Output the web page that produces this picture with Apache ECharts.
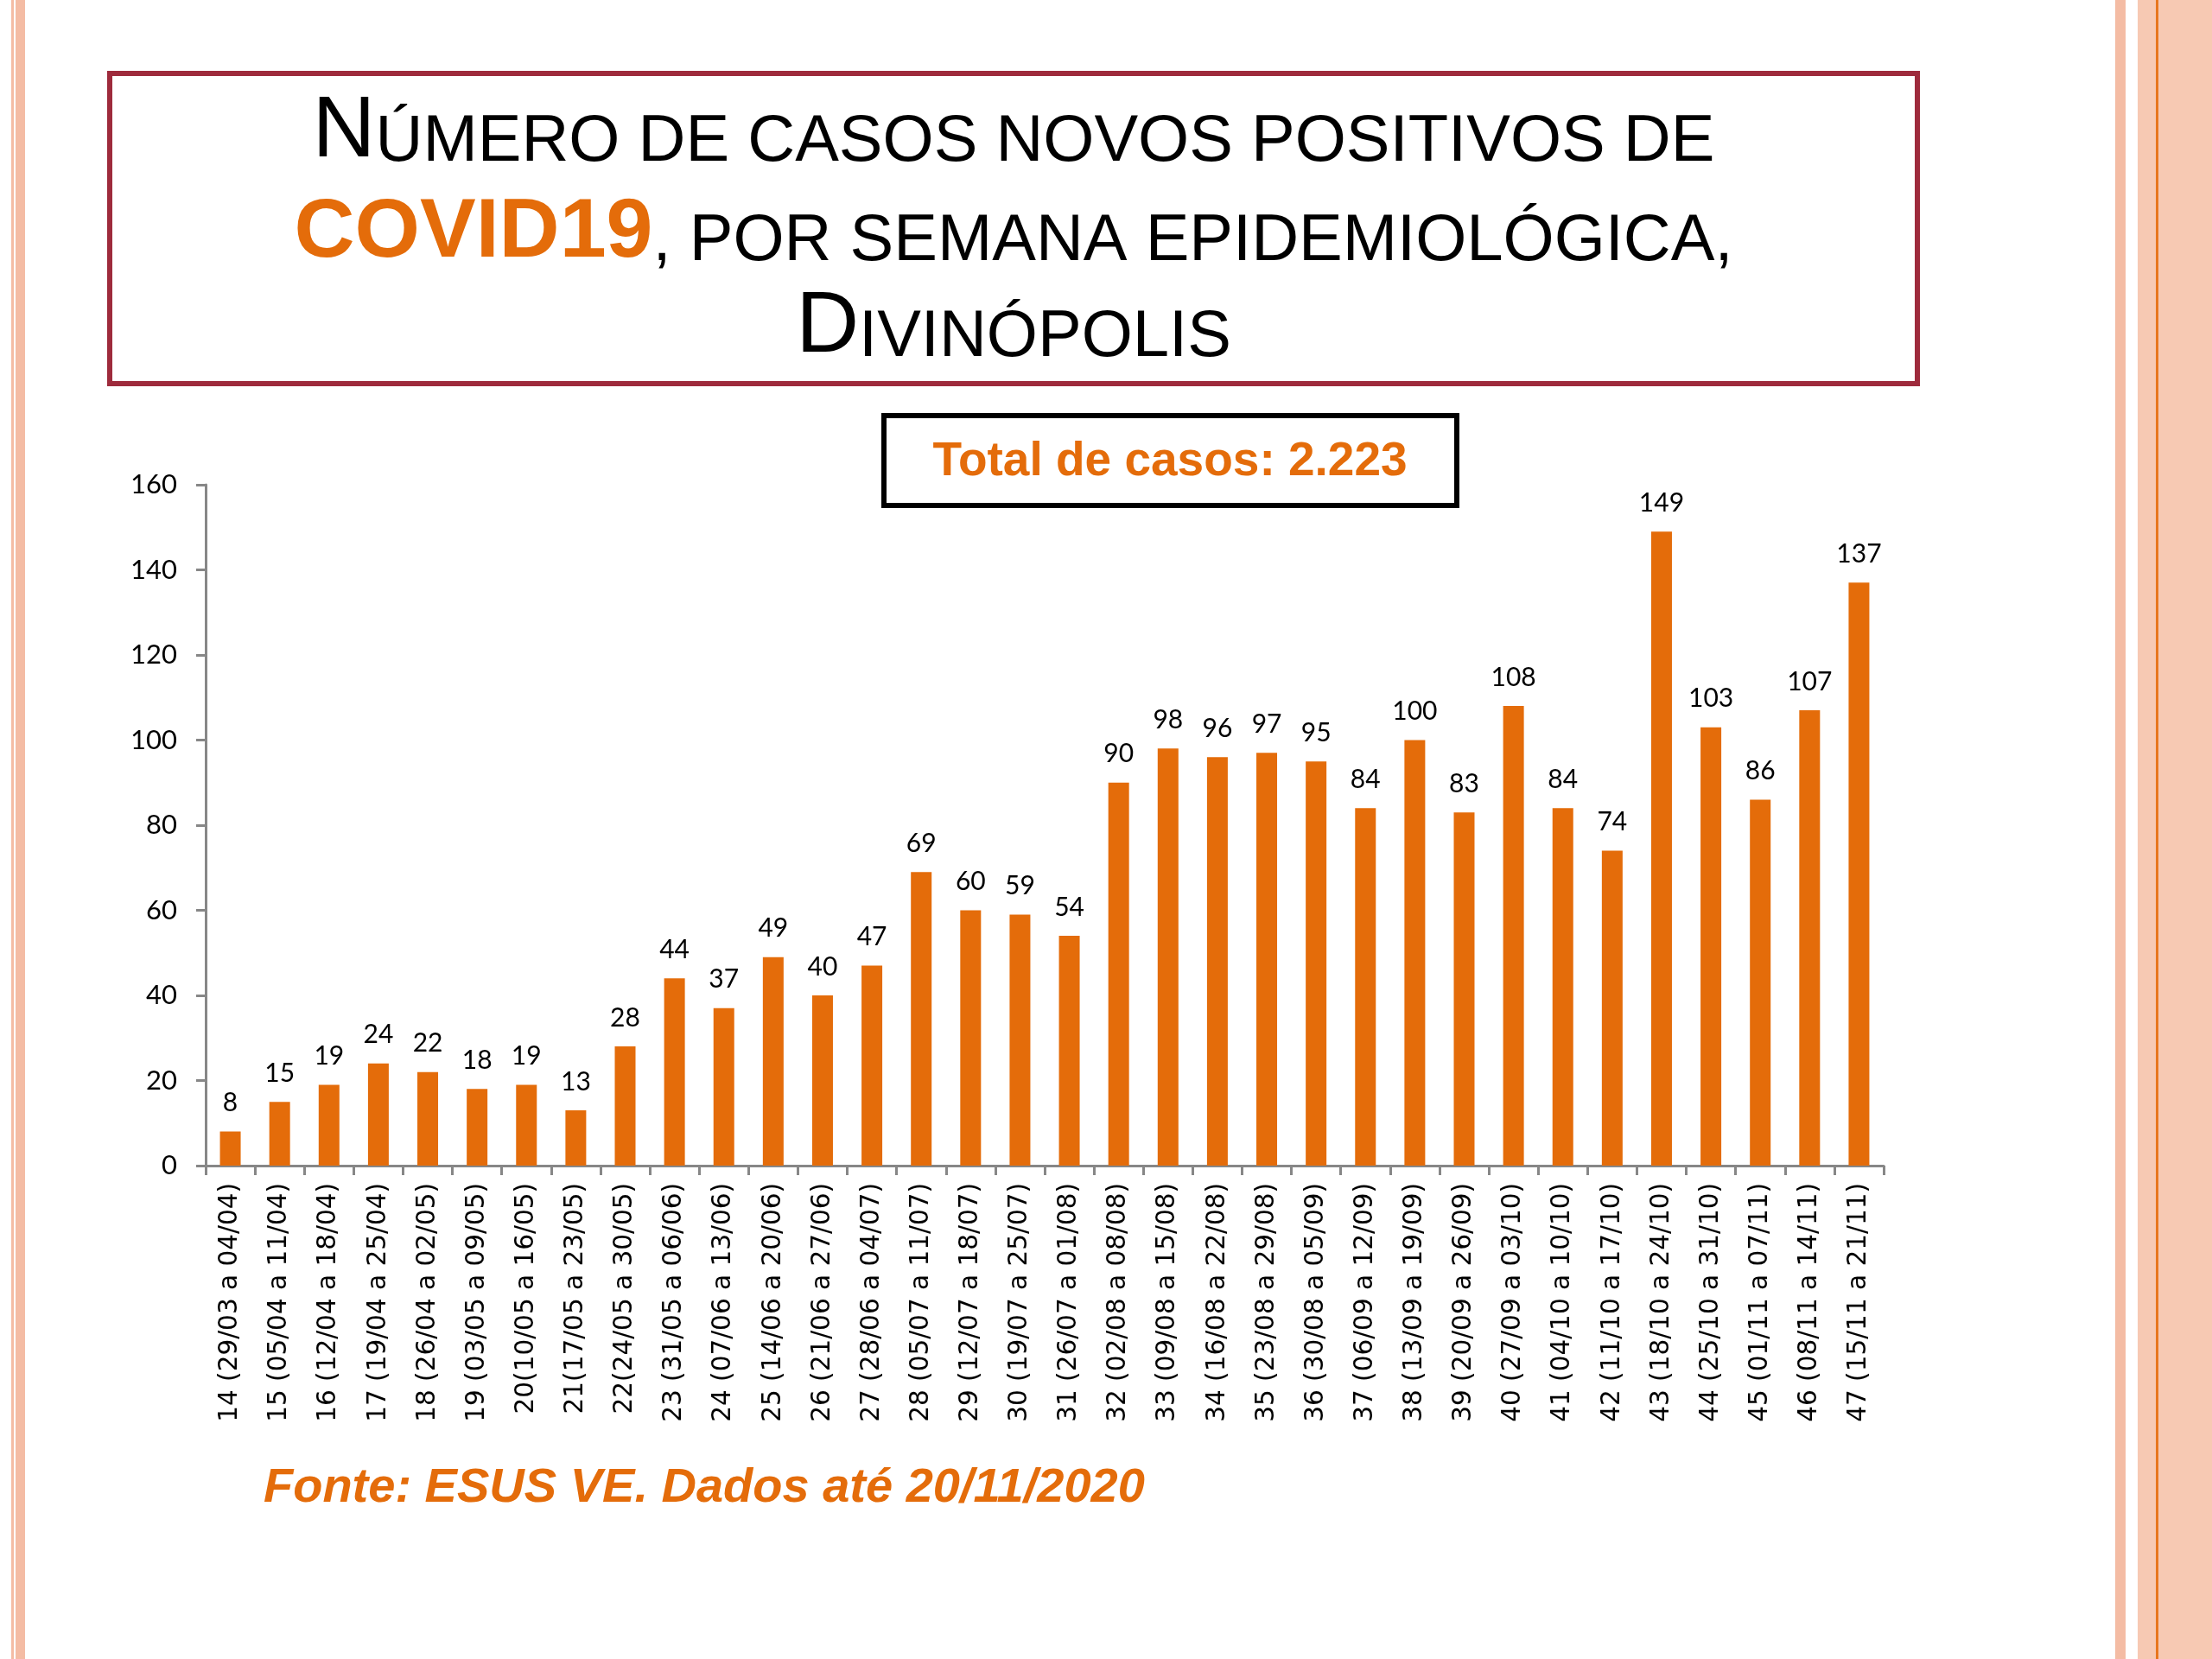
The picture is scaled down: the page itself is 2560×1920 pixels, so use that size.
<!DOCTYPE html>
<html>
<head>
<meta charset="utf-8">
<script src="https://cdn.jsdelivr.net/npm/echarts@6/dist/echarts.min.js"></script>
<style>
html,body{margin:0;padding:0;background:#fff;}
#chart{width:2560px;height:1920px;}
</style>
</head>
<body>
<div id="chart"></div>
<script>
const categories = [
  '14 (29/03 a 04/04)','15 (05/04 a 11/04)','16 (12/04 a 18/04)','17 (19/04 a 25/04)',
  '18 (26/04 a 02/05)','19 (03/05 a 09/05)','20(10/05 a 16/05)','21(17/05 a 23/05)',
  '22(24/05 a 30/05)','23 (31/05 a 06/06)','24 (07/06 a 13/06)','25 (14/06 a 20/06)',
  '26 (21/06 a 27/06)','27 (28/06 a 04/07)','28 (05/07 a 11/07)','29 (12/07 a 18/07)',
  '30 (19/07 a 25/07)','31 (26/07 a 01/08)','32 (02/08 a 08/08)','33 (09/08 a 15/08)',
  '34 (16/08 a 22/08)','35 (23/08 a 29/08)','36 (30/08 a 05/09)','37 (06/09 a 12/09)',
  '38 (13/09 a 19/09)','39 (20/09 a 26/09)','40 (27/09 a 03/10)','41 (04/10 a 10/10)',
  '42 (11/10 a 17/10)','43 (18/10 a 24/10)','44 (25/10 a 31/10)','45 (01/11 a 07/11)',
  '46 (08/11 a 14/11)','47 (15/11 a 21/11)'
];
const values = [8,15,19,24,22,18,19,13,28,44,37,49,40,47,69,60,59,54,90,98,96,97,95,84,100,83,108,84,74,149,103,86,107,137];
const yMin = 0, yMax = 160, yStep = 20;
const totalText = 'Total de casos: 2.223';
const sourceText = 'Fonte: ESUS VE. Dados até 20/11/2020';

const ORANGE = '#E46C0A';
const AXIS = '#878787';
const chart = echarts.init(document.getElementById('chart'), null, {renderer:'canvas'});

const TF = '"Liberation Sans", Arial, sans-serif';
function tok(fs, lh, extra){return Object.assign({fontFamily:TF, fontSize:fs, lineHeight:lh, fill:'#000', verticalAlign:'bottom'}, extra||{});}

chart.setOption({
  backgroundColor:'#ffffff',
  animation:false,
  grid:{left:238, right:380, top:561, bottom:571, containLabel:false},
  xAxis:{
    type:'category', data:categories,
    axisLine:{show:true, lineStyle:{color:AXIS, width:3}},
    axisTick:{show:true, alignWithLabel:false, length:11, lineStyle:{color:AXIS, width:3}},
    axisLabel:{interval:0, rotate:90, margin:20, fontFamily:'"DejaVu Sans", Verdana, sans-serif', fontSize:29.5, color:'#000'}
  },
  yAxis:{
    type:'value', min:yMin, max:yMax, interval:yStep,
    splitLine:{show:false},
    axisLine:{show:true, lineStyle:{color:AXIS, width:3}},
    axisTick:{show:true, length:11, lineStyle:{color:AXIS, width:3}},
    axisLabel:{margin:33, fontFamily:'Lato, "Open Sans", sans-serif', fontSize:31, color:'#000'}
  },
  series:[{
    type:'bar', data:values, barWidth:24,
    itemStyle:{color:ORANGE},
    label:{show:true, position:'top', distance:18, fontFamily:'Lato, "Open Sans", sans-serif', fontSize:30, color:'#000'}
  }],
  graphic:[
    {type:'rect', shape:{x:13,y:0,width:3,height:1920}, style:{fill:'#F4BCA4'}, silent:true},
    {type:'rect', shape:{x:18,y:0,width:11,height:1920}, style:{fill:'#F4BCA4'}, silent:true},
    {type:'rect', shape:{x:2448,y:0,width:12,height:1920}, style:{fill:'#F4BCA4'}, silent:true},
    {type:'rect', shape:{x:2474,y:0,width:86,height:1920}, style:{fill:'#F7C9B3'}, silent:true},
    {type:'rect', shape:{x:2495,y:0,width:3,height:1920}, style:{fill:'#E8761E'}, silent:true},
    {type:'rect', shape:{x:127,y:85,width:2092,height:359}, style:{fill:'none', stroke:'#9E2B3C', lineWidth:6}, silent:true},
    {type:'text', x:1173, y:147, style:{
      text:'{b|N}{s|ÚMERO DE CASOS NOVOS POSITIVOS DE}', align:'center', verticalAlign:'middle',
      rich:{b:tok(101,113), s:tok(76,95.7)}
    }},
    {type:'text', x:1173, y:262, style:{
      text:'{c|COVID19}{s|, POR SEMANA EPIDEMIOLÓGICA,}', align:'center', verticalAlign:'middle',
      rich:{c:tok(97,113,{fontWeight:'bold', fill:ORANGE}), s:tok(76,97.8)}
    }},
    {type:'text', x:1173, y:373, style:{
      text:'{b|D}{s|IVINÓPOLIS}', align:'center', verticalAlign:'middle',
      rich:{b:tok(101,113), s:tok(76,95.7)}
    }},
    {type:'rect', shape:{x:1023,y:481,width:663,height:104}, style:{fill:'#fff', stroke:'#000', lineWidth:6}, silent:true},
    {type:'text', x:1354, y:535, style:{text:totalText, align:'center', verticalAlign:'middle',
      fontFamily:TF, fontSize:55, fontWeight:'bold', fill:ORANGE}},
    {type:'text', x:305, y:1723, style:{text:sourceText, align:'left', verticalAlign:'middle',
      fontFamily:TF, fontSize:56, fontWeight:'bold', fontStyle:'italic', fill:ORANGE}}
  ]
});
</script>
</body>
</html>
